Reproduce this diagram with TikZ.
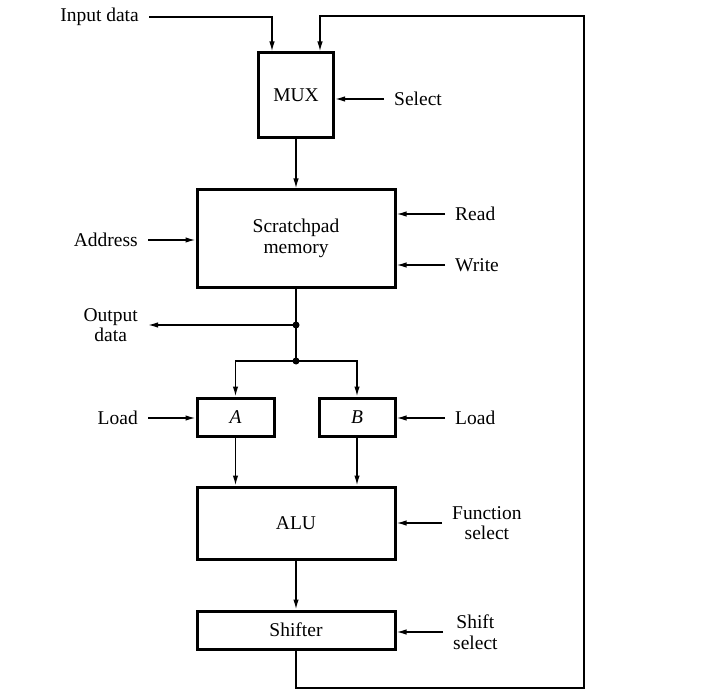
\documentclass[tikz,border=0pt]{standalone}
\usepackage{amsmath}
\usepackage{fontspec}
\setmainfont{Liberation Serif}
\usepackage{tikz}
\usetikzlibrary{arrows.meta, calc}

\begin{document}
\begin{tikzpicture}[x=1pt,y=-1pt,
font=\fontsize{19.5}{20.5}\selectfont,
every node/.style={inner sep=0pt},
block/.style={draw, line width=3pt, minimum width=198pt, align=center},
lbl/.style={inner xsep=10pt, inner ysep=2pt, align=center},
sig/.style={line width=1.5pt, -{Latex[length=10pt,width=5.5pt]}},
wire/.style={line width=1.5pt},
dot/.style={circle, fill, minimum size=7pt}]
\useasboundingbox (0,0) rectangle (719,700);
% The blocks:
\node [block, minimum width=75pt, minimum height=85pt] (mux) at (296,95.5) {MUX};
\node [block, minimum height=97pt] (spm) at (296,238.5) {Scratchpad\\memory};
\node [block, minimum width=77pt, minimum height=38pt] (rega) at (235.5,417) {\textit{A}};
\node [block, minimum width=76pt, minimum height=38pt] (regb) at (357,417) {\textit{B}};
\node [block, minimum height=72pt] (alu) at (296,523) {ALU};
\node [block, minimum height=38pt] (shifter) at (296,630) {Shifter};
%
\node [dot] (outdot) at (296,325) {};
\node [dot] (split) at (296,361) {};
\coordinate (fb bottom) at (584,688);
\coordinate (fb top) at (584,16);
% The signals:
\node [lbl, anchor=east] (indata) at (149,17) {Input data};
\node [lbl, anchor=west] (sel) at (384,99) {Select};
\node [lbl, anchor=west] (rd) at (445,214) {Read};
\node [lbl, anchor=west] (wr) at (445,265) {Write};
\node [lbl, anchor=east] (addr) at (148,240) {Address};
\node [lbl, anchor=east] (outdata) at (148,325) {Output\\data};
\node [lbl, anchor=east] (lda) at (148,418) {Load};
\node [lbl, anchor=west] (ldb) at (445,418) {Load};
\node [lbl, anchor=west] (fs) at (442,523) {Function\\select};
\node [lbl, anchor=west] (ss) at (443,632) {Shift\\select};

\draw [sig] (indata.east) -| ([xshift=-24pt]mux.north);
\draw [sig] (shifter.south) |- (fb bottom) -- (fb top) -| ([xshift=24pt]mux.north);
\draw [sig] (mux.south) -- (spm.north);
\foreach \sname/\bname in {sel/mux, rd/spm, wr/spm, ldb/regb, fs/alu, ss/shifter}
  \draw [sig] (\sname.west) -- (\sname.west -| \bname.east);
\foreach \sname/\bname in {addr/spm, lda/rega}
  \draw [sig] (\sname.east) -- (\sname.east -| \bname.west);
\draw [wire] (spm.south) -- (split.center);
\draw [sig] (outdot.center) -- (outdot -| outdata.east);
\draw [sig] (split.center) -| (rega.north);
\draw [sig] (split.center) -| (regb.north);
\draw [sig] (rega.south) -- (rega.south |- alu.north);
\draw [sig] (regb.south) -- (regb.south |- alu.north);
\draw [sig] (alu.south) -- (shifter.north);
\end{tikzpicture}
\end{document}
